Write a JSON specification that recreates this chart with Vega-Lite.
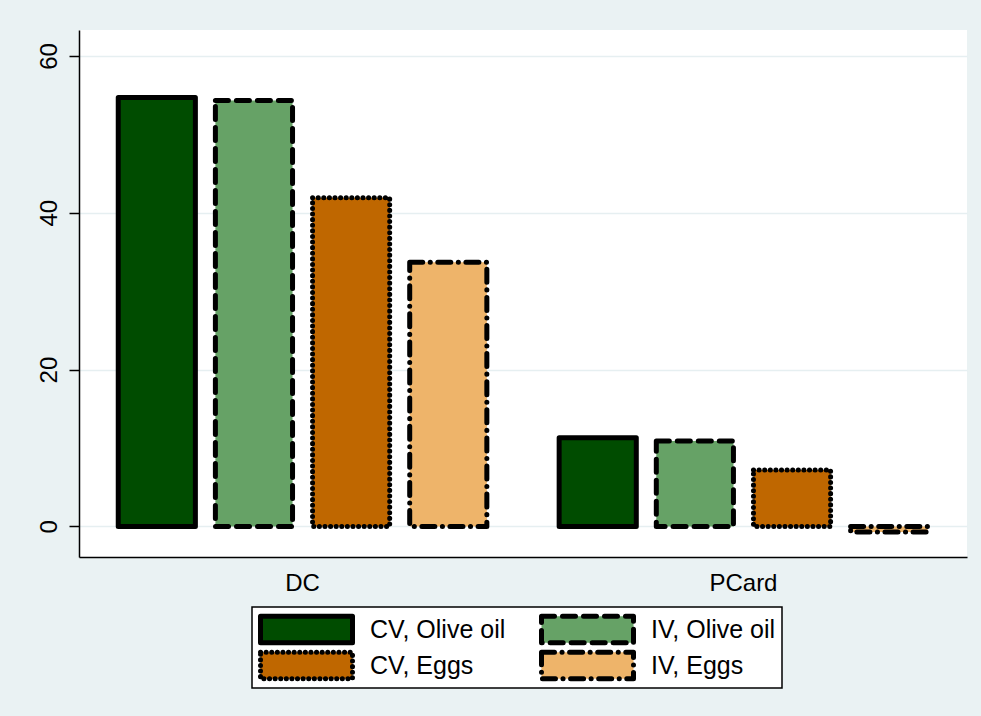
{
  "$schema": "https://vega.github.io/schema/vega-lite/v6.json",
  "width": 888,
  "height": 527,
  "autosize": {"type": "none"},
  "padding": {"left": 79, "top": 30, "right": 14, "bottom": 159},
  "background": "#EAF2F3",
  "config": {"view": {"fill": "white", "stroke": null}, "font": "Liberation Sans"},
  "data": {
    "values": [
      {"group": "DC", "series": "CV, Olive oil", "value": 54.7},
      {"group": "DC", "series": "IV, Olive oil", "value": 54.3},
      {"group": "DC", "series": "CV, Eggs", "value": 41.9},
      {"group": "DC", "series": "IV, Eggs", "value": 33.7},
      {"group": "PCard", "series": "CV, Olive oil", "value": 11.3},
      {"group": "PCard", "series": "IV, Olive oil", "value": 10.9},
      {"group": "PCard", "series": "CV, Eggs", "value": 7.2},
      {"group": "PCard", "series": "IV, Eggs", "value": -0.7}
    ]
  },
  "mark": {"type": "bar", "stroke": "black", "strokeWidth": 5, "strokeCap": "round", "strokeJoin": "round"},
  "encoding": {
    "x": {
      "field": "group", "type": "nominal", "sort": ["DC", "PCard"],
      "scale": {"paddingInner": 0.164, "paddingOuter": 0.089},
      "axis": {"title": null, "labelAngle": 0, "ticks": false, "domainColor": "black", "domainWidth": 1.5,
               "labelFontSize": 24, "labelPadding": 14, "labelColor": "black", "grid": false}
    },
    "xOffset": {
      "field": "series", "type": "nominal",
      "sort": ["CV, Olive oil", "IV, Olive oil", "CV, Eggs", "IV, Eggs"],
      "scale": {"paddingInner": 0.206, "paddingOuter": 0}
    },
    "y": {
      "field": "value", "type": "quantitative", "stack": null,
      "scale": {"domain": [-3.9, 63.3], "nice": false, "zero": false},
      "axis": {"title": null, "values": [0, 20, 40, 60], "labelAngle": -90, "tickSize": 10, "tickColor": "black",
               "tickWidth": 1.5, "domainColor": "black", "domainWidth": 1.5, "labelFontSize": 24,
               "labelColor": "black", "labelPadding": 8, "grid": true, "gridColor": "#E6EFF1", "gridWidth": 1.5}
    },
    "fill": {
      "field": "series", "type": "nominal",
      "scale": {"domain": ["CV, Olive oil", "IV, Olive oil", "CV, Eggs", "IV, Eggs"],
                "range": ["#004C00", "#66A266", "#BF6700", "#EEB46A"]},
      "legend": {
        "title": null, "orient": "none", "legendX": 173, "legendY": 577, "columns": 2, "direction": "horizontal",
        "columnPadding": 33, "rowPadding": 3, "clipHeight": 33, "padding": 6,
        "symbolType": "M-1,-0.29H1V0.29H-1Z", "symbolSize": 8464, "symbolStrokeWidth": 5,
        "symbolStrokeColor": "black", "labelOffset": 15, "labelFontSize": 25, "labelColor": "black",
        "labelLimit": 400, "strokeColor": "black", "fillColor": "white",
        "encode": {
          "symbols": {"update": {"stroke": {"value": "black"}, "strokeWidth": {"value": 5}, "strokeCap": {"value": "round"}, "strokeJoin": {"value": "round"}}},
          "legend": {"update": {"strokeWidth": {"value": 1.5}}}
        }
      }
    },
    "strokeDash": {
      "field": "series", "type": "nominal",
      "scale": {"domain": ["CV, Olive oil", "IV, Olive oil", "CV, Eggs", "IV, Eggs"],
                "range": [[1, 0], [13, 8], [0.1, 5.5], [13, 7.5, 0.1, 7.5]]},
      "legend": {
        "title": null, "orient": "none", "legendX": 173, "legendY": 577, "columns": 2, "direction": "horizontal",
        "columnPadding": 33, "rowPadding": 3, "clipHeight": 33, "padding": 6,
        "symbolType": "M-1,-0.29H1V0.29H-1Z", "symbolSize": 8464, "symbolStrokeWidth": 5,
        "symbolStrokeColor": "black", "labelOffset": 15, "labelFontSize": 25, "labelColor": "black",
        "labelLimit": 400, "strokeColor": "black", "fillColor": "white",
        "encode": {
          "symbols": {"update": {"stroke": {"value": "black"}, "strokeWidth": {"value": 5}, "strokeCap": {"value": "round"}, "strokeJoin": {"value": "round"}}},
          "legend": {"update": {"strokeWidth": {"value": 1.5}}}
        }
      }
    }
  }
}
